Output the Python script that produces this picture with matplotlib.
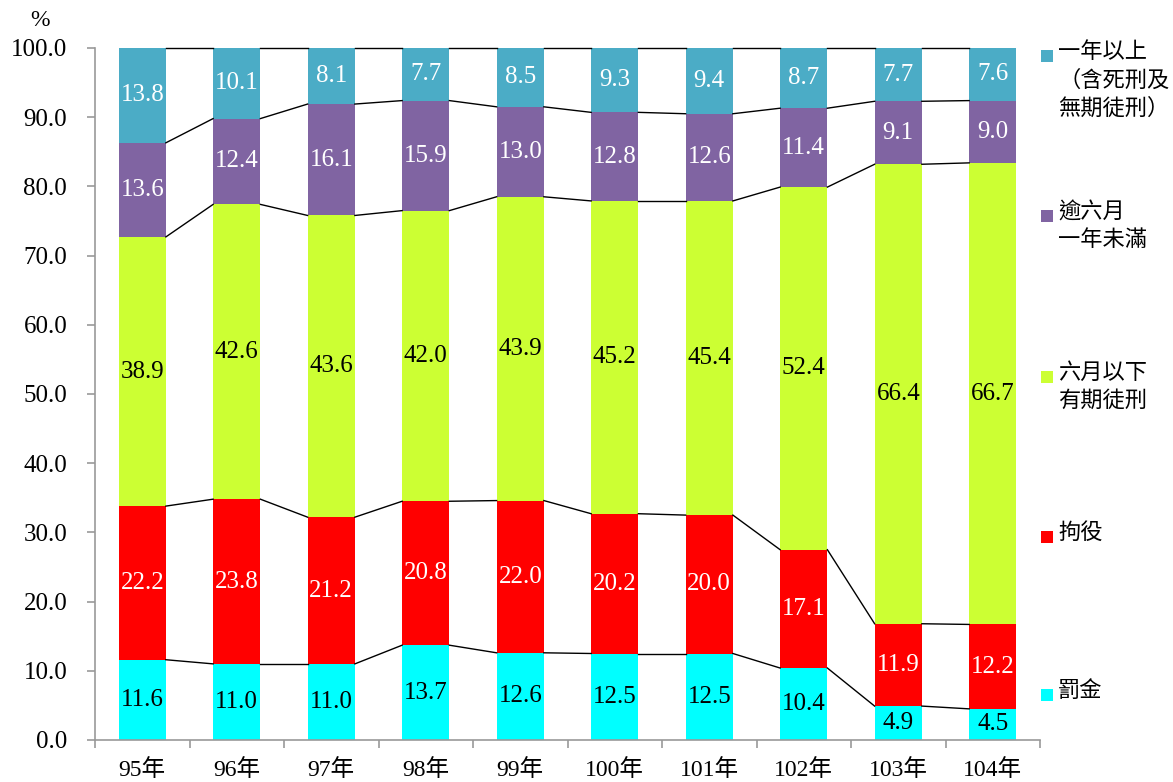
import numpy as np
import matplotlib as mpl
mpl.use('Agg')
import matplotlib.pyplot as plt
from matplotlib.patches import Rectangle

plt.rcParams['font.family'] = ['Liberation Serif', 'Noto Sans CJK TC']

years = ['95年', '96年', '97年', '98年', '99年', '100年', '101年', '102年', '103年', '104年']
fine = [11.6, 11.0, 11.0, 13.7, 12.6, 12.5, 12.5, 10.4, 4.9, 4.5]
detention = [22.2, 23.8, 21.2, 20.8, 22.0, 20.2, 20.0, 17.1, 11.9, 12.2]
under_6m = [38.9, 42.6, 43.6, 42.0, 43.9, 45.2, 45.4, 52.4, 66.4, 66.7]
over_6m = [13.6, 12.4, 16.1, 15.9, 13.0, 12.8, 12.6, 11.4, 9.1, 9.0]
over_1y = [13.8, 10.1, 8.1, 7.7, 8.5, 9.3, 9.4, 8.7, 7.7, 7.6]

series = [fine, detention, under_6m, over_6m, over_1y]
names = ['罰金', '拘役', '六月以下\n有期徒刑', '逾六月\n一年未滿', '一年以上\n（含死刑及\n無期徒刑）']
colors = ['#00FFFF', '#FF0000', '#CCFF33', '#8064A2', '#4BACC6']
txt_colors = ['black', 'white', 'black', 'white', 'white']

fig = plt.figure(figsize=(11.73, 7.82), dpi=100)
ax = fig.add_axes([95 / 1173, 42 / 782, 945 / 1173, 692 / 782])

x = np.arange(len(years))
w = 0.5
bottom = np.zeros(len(years))
for k, (vals, c, tc) in enumerate(zip(series, colors, txt_colors)):
    vals = np.array(vals)
    if k == len(series) - 1:
        # percentages: top segment closes at 100
        heights = 100.0 - bottom
    else:
        heights = vals
    ax.bar(x, heights, w, bottom=bottom, color=c, zorder=2)
    for i, v in enumerate(vals):
        ax.text(x[i], bottom[i] + heights[i] / 2, '%.1f' % v, ha='center', va='center',
                fontsize=18, color=tc, zorder=4)
    bottom = bottom + heights
    # connector lines between bar tops
    for i in range(len(years) - 1):
        ax.plot([x[i] + w / 2, x[i + 1] - w / 2], [bottom[i], bottom[i + 1]],
                color='black', lw=1, zorder=3, clip_on=False)

ax.set_xlim(-0.5, len(years) - 0.5)
ax.set_ylim(0, 100)
ax.set_yticks(np.arange(0, 101, 10))
ax.set_yticklabels(['%.1f' % v for v in np.arange(0, 101, 10)], fontsize=18)
ax.set_xticks(x)
ax.set_xticklabels(years, fontsize=17)
ax.set_xticks(np.arange(-0.5, len(years), 1), minor=True)
ax.tick_params(axis='x', which='major', length=0, pad=14)
ax.tick_params(axis='x', which='minor', length=6, color='#999999', width=1.2)
ax.tick_params(axis='y', length=6, color='#999999', width=1.2, pad=14)
for s in ['top', 'right']:
    ax.spines[s].set_visible(False)
for s in ['left', 'bottom']:
    ax.spines[s].set_color('#999999')
    ax.spines[s].set_linewidth(1.2)

fig.text(40 / 1173, 1 - 21 / 782, '%', fontsize=17, ha='center', va='center')

# legend, top entry first
leg_y = [56, 216, 377, 537, 695]
for name, c, yy in zip(names[::-1], colors[::-1], leg_y):
    fig.add_artist(Rectangle((1041 / 1173, 1 - (yy + 6) / 782), 12 / 1173, 12 / 782,
                             facecolor=c, edgecolor='none', transform=fig.transFigure))
    fig.text(1058 / 1173, 1 - (yy - 14) / 782, name, fontsize=16, ha='left', va='top',
             linespacing=1.45)

fig.savefig('out.png', dpi=100)
